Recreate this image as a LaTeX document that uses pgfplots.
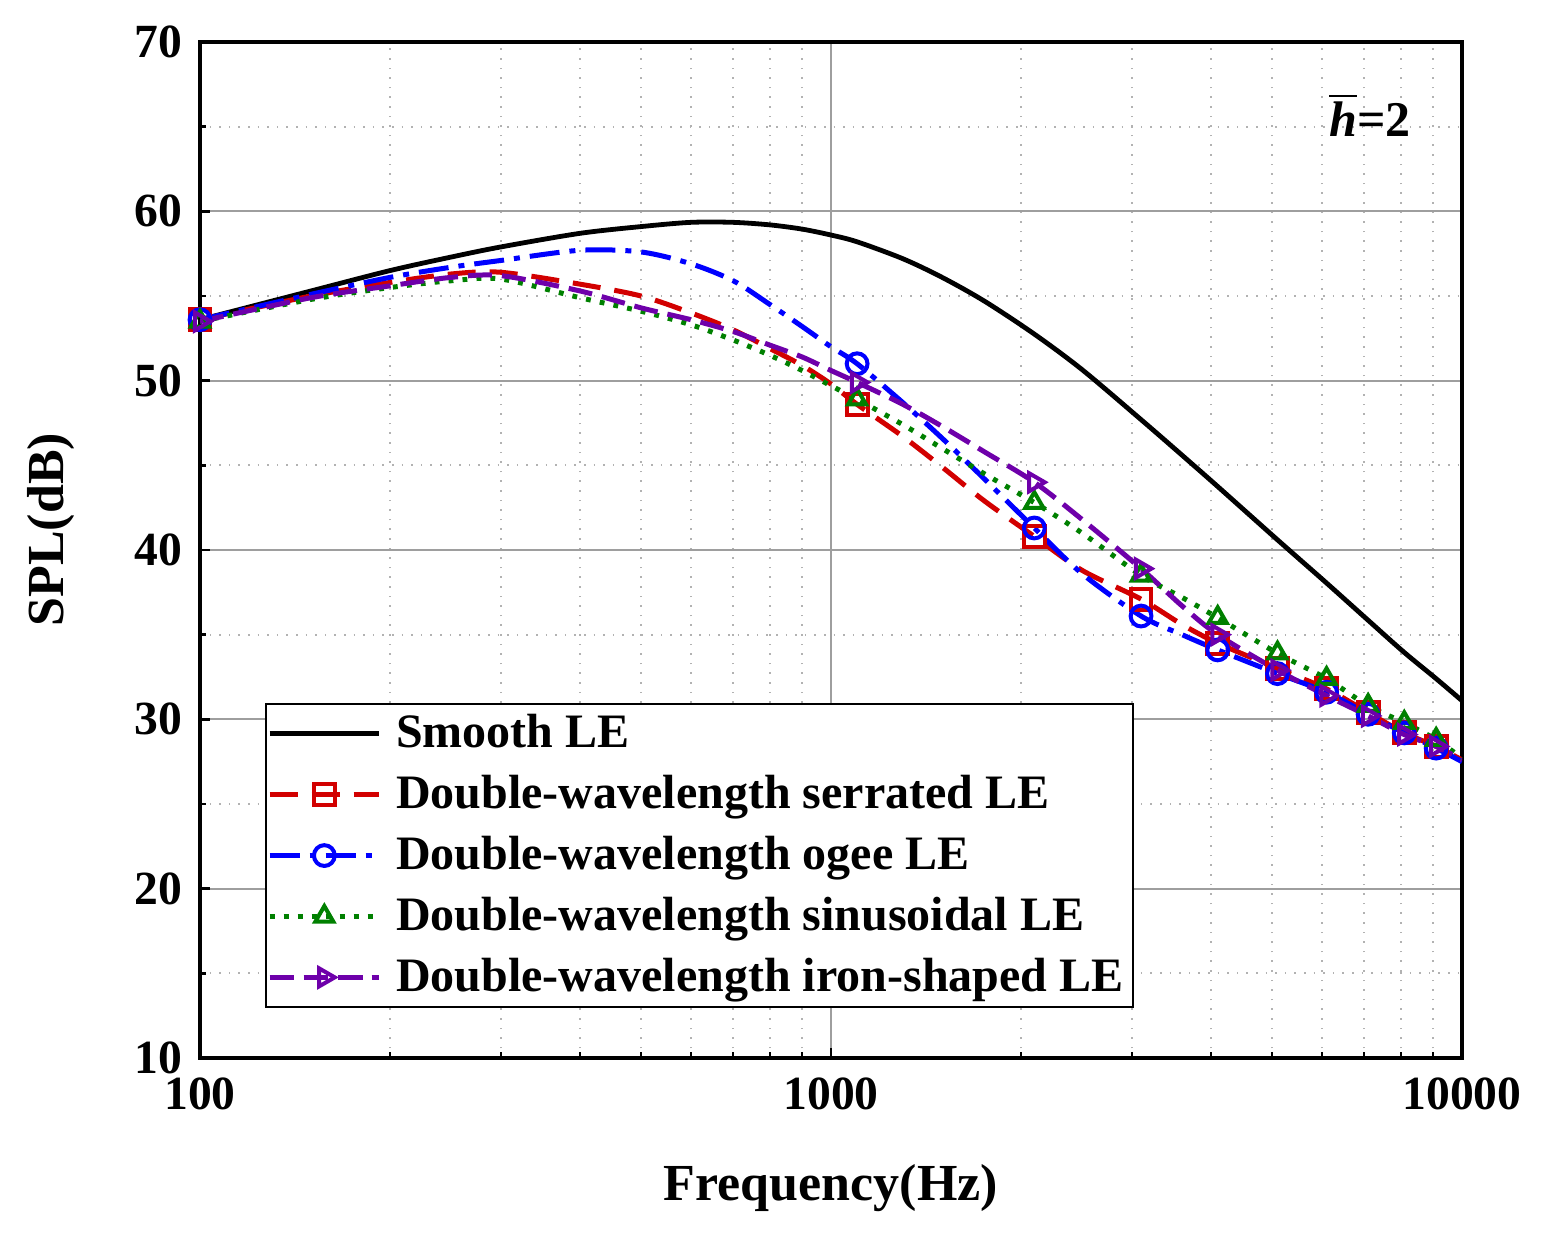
\documentclass[border=0pt]{standalone}
\usepackage{pgfplots}
\pgfplotsset{compat=1.18}
\usepackage{fontspec}
\setmainfont{Liberation Serif}
\definecolor{cred}{RGB}{210,0,0}
\definecolor{cblue}{RGB}{0,0,255}
\definecolor{cgreen}{RGB}{0,128,0}
\definecolor{cpurple}{RGB}{110,0,170}
\begin{document}
\begin{tikzpicture}
\path[use as bounding box] (-50pt,-45.75pt) rectangle (335.25pt,264.5pt);
\begin{axis}[
  at={(0,0)}, anchor=south west,
  scale only axis, width=315.5pt, height=254pt,
  xmode=log, xmin=100, xmax=10000, ymin=10, ymax=70,
  xtick={100,1000,10000}, xticklabels={100,1000,10000},
  ytick={10,20,30,40,50,60,70}, yticklabels={10,20,30,40,50,60,70},
  minor ytick={15,25,35,45,55,65},
  tick pos=left, tick align=inside,
  major tick length=2.5pt, minor tick length=1.6pt,
  every tick/.style={black, line width=0.6pt},
  axis line style={black, line width=0.9pt},
  grid=both,
  major grid style={draw=black!38, line width=0.55pt},
  minor grid style={draw=black!30, dotted, line width=0.45pt},
  tick label style={font=\bfseries\fontsize{11.9}{14}\selectfont},
  xticklabel style={yshift=-1.5pt},
  yticklabel style={xshift=-1pt},
  xlabel={Frequency(Hz)}, ylabel={SPL(dB)},
  label style={font=\bfseries\fontsize{13}{15}\selectfont},
  xlabel style={at={(axis description cs:0.5,-0.128)}, anchor=center},
  ylabel style={at={(axis description cs:-0.118,0.52)}, anchor=center, rotate=0},
  legend cell align=left,
  legend style={at={(0.0515,0.0492)}, anchor=south west, draw=black, line width=0.5pt,
    font=\bfseries\fontsize{12}{14}\selectfont, inner xsep=0.3pt, inner ysep=1.5pt,
    row sep=3.4pt, column sep=1.5pt, nodes={inner xsep=2.2pt, inner ysep=1pt}},
  legend image code/.code={\draw[mark indices={2}] plot coordinates {(0cm,0cm) (0.48cm,0cm) (0.96cm,0cm)};},
  mark size=2.6pt,
]
\addplot[black, line width=1.2pt, smooth] coordinates {
(100,53.6) (150,55.3) (200,56.5) (250,57.3) (300,57.9) (400,58.7) (500,59.1) (600,59.35) (700,59.35) (800,59.2) (900,58.95) (1000,58.6) (1100,58.2) (1300,57.2) (1500,56.1) (1750,54.7) (2100,52.75) (2500,50.65) (3100,47.7) (3600,45.6) (4100,43.75) (5100,40.6) (6100,38.05) (7100,35.85) (8100,33.95) (9100,32.4) (10000,31.1)};
\addlegendentry{Smooth LE}
\addplot[cred, line width=1.25pt, smooth, dash pattern=on 7pt off 3.5pt, mark=square, mark indices={1,13,17,19,21,22,23,24,25,26}, mark options={solid, fill=white, line width=1pt}] coordinates {
(100,53.6) (150,55.0) (200,55.8) (250,56.3) (300,56.4) (400,55.7) (500,55.0) (600,54.0) (700,53.0) (800,51.9) (900,50.9) (1000,49.8) (1100,48.6) (1300,46.7) (1500,44.9) (1750,42.9) (2100,40.8) (2500,38.8) (3100,37.1) (3600,35.6) (4100,34.5) (5100,33.0) (6100,31.8) (7100,30.4) (8100,29.2) (9100,28.4) (10000,27.6)};
\addlegendentry{Double-wavelength serrated LE}
\addplot[cblue, line width=1.25pt, smooth, dash pattern=on 7.5pt off 2.5pt on 1.5pt off 2.5pt, mark=o, mark indices={1,13,17,19,21,22,23,24,25,26}, mark options={solid, fill=white, line width=1pt}] coordinates {
(100,53.6) (150,55.1) (200,56.1) (250,56.7) (300,57.1) (400,57.7) (500,57.6) (600,56.9) (700,55.9) (800,54.5) (900,53.2) (1000,52.0) (1100,51.0) (1300,48.7) (1500,46.6) (1750,44.2) (2100,41.3) (2500,38.6) (3100,36.1) (3600,35.0) (4100,34.1) (5100,32.7) (6100,31.6) (7100,30.3) (8100,29.2) (9100,28.3) (10000,27.5)};
\addlegendentry{Double-wavelength ogee LE}
\addplot[cgreen, line width=1.25pt, smooth, dash pattern=on 1.2pt off 2.3pt, mark=triangle, mark indices={1,13,17,19,21,22,23,24,25,26}, mark options={solid, fill=white, line width=1pt}] coordinates {
(100,53.5) (150,54.8) (200,55.5) (250,55.9) (300,56.0) (400,54.9) (500,54.1) (600,53.3) (700,52.4) (800,51.5) (900,50.6) (1000,49.7) (1100,48.9) (1300,47.4) (1500,46.0) (1750,44.5) (2100,42.8) (2500,41.0) (3100,38.5) (3600,37.2) (4100,36.0) (5100,33.9) (6100,32.4) (7100,30.8) (8100,29.8) (9100,28.8) (10000,27.7)};
\addlegendentry{Double-wavelength sinusoidal LE}
\addplot[cpurple, line width=1.25pt, smooth, dash pattern=on 6pt off 2.5pt, mark=triangle, mark indices={1,13,17,19,21,22,23,24,25,26}, mark options={solid, fill=white, line width=1pt, rotate=-90}] coordinates {
(100,53.5) (150,54.9) (200,55.6) (250,56.1) (300,56.2) (400,55.3) (500,54.3) (600,53.6) (700,52.9) (800,52.1) (900,51.4) (1000,50.6) (1100,49.9) (1300,48.6) (1500,47.3) (1750,45.8) (2100,44.0) (2500,41.8) (3100,38.9) (3600,36.7) (4100,35.0) (5100,32.9) (6100,31.4) (7100,30.2) (8100,29.1) (9100,28.4) (10000,27.6)};
\addlegendentry{Double-wavelength iron-shaped LE}
\node[font=\bfseries\fontsize{12.5}{15}\selectfont] at (axis description cs:0.927,0.928) {$\overline{\mbox{\textit{h}}}$=2};
\end{axis}
\end{tikzpicture}
\end{document}
